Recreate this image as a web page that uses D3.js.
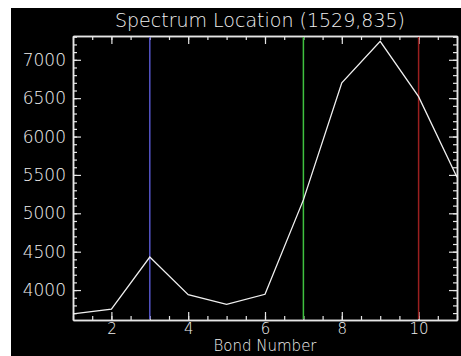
<!DOCTYPE html>
<html>
<head>
<meta charset="utf-8">
<script src="https://cdn.jsdelivr.net/npm/d3@7"></script>
<style>
  body { margin: 0; background: #fff; }
  text { font-family: "DejaVu Sans", sans-serif; font-weight: 200; fill: #f0f0f0; }
</style>
</head>
<body>
<div id="chart"></div>
<script>
// data
var bands = [1, 2, 3, 4, 5, 6, 7, 8, 9, 10, 11];
var values = [3690, 3750, 4430, 3940, 3815, 3945, 5175, 6700, 7240, 6520, 5470];
var markerBands = [3, 7, 10];
var markerColors = ["#5555c8", "#3fc03f", "#9a1f1f"];
var xTicks = [2, 4, 6, 8, 10];
var yTicks = [4000, 4500, 5000, 5500, 6000, 6500, 7000];

var W = 461, H = 356;
var margin = {top: 36, right: 4, bottom: 36, left: 73},
    width = W - margin.left - margin.right,
    height = H - margin.top - margin.bottom;

var svg = d3.select("#chart")
  .append("svg")
    .attr("width", W)
    .attr("height", H);

// black panel with white edge on the left and top
svg.append("rect")
    .attr("x", 11).attr("y", 8)
    .attr("width", W - 11).attr("height", H - 8)
    .attr("fill", "#000");

svg.append("text")
    .attr("x", 260).attr("y", 27)
    .attr("text-anchor", "middle")
    .style("font-size", "19px")
    .text("Spectrum Location (1529,835)");

var g = svg.append("g")
    .attr("transform", "translate(" + margin.left + "," + margin.top + ")");

var x = d3.scaleLinear().domain([1, 11]).range([0, width]);
var y = d3.scaleLinear().domain([3610, 7310]).range([height, 0]);

var minorX = d3.range(1, 11.01, 0.5);
var minorY = d3.range(3700, 7301, 100);

function styleAxis(sel) {
  sel.select(".domain").attr("stroke", "#e6e6e6").attr("stroke-width", 1.5);
  sel.selectAll(".tick line").attr("stroke", "#e6e6e6").attr("stroke-width", 1.2);
  sel.selectAll("text").style("font-size", "17px").attr("fill", "#f0f0f0");
}

// minor ticks
g.append("g").attr("transform", "translate(0," + height + ")")
  .call(d3.axisBottom(x).tickValues(minorX).tickSize(-4).tickFormat("").tickSizeOuter(0)).call(styleAxis);
g.append("g")
  .call(d3.axisTop(x).tickValues(minorX).tickSize(-4).tickFormat("").tickSizeOuter(0)).call(styleAxis);
g.append("g")
  .call(d3.axisLeft(y).tickValues(minorY).tickSize(-4).tickFormat("").tickSizeOuter(0)).call(styleAxis);
g.append("g").attr("transform", "translate(" + width + ",0)")
  .call(d3.axisRight(y).tickValues(minorY).tickSize(-4).tickFormat("").tickSizeOuter(0)).call(styleAxis);

// major ticks
g.append("g").attr("transform", "translate(0," + height + ")")
  .call(d3.axisBottom(x).tickValues(xTicks).tickSize(-8).tickPadding(4).tickFormat(d3.format("d")).tickSizeOuter(0))
  .call(styleAxis)
  .selectAll("text").style("font-size", "15px").attr("dy", "10px");
g.append("g")
  .call(d3.axisTop(x).tickValues(xTicks).tickSize(-8).tickFormat("").tickSizeOuter(0)).call(styleAxis);
g.append("g")
  .call(d3.axisLeft(y).tickValues(yTicks).tickSize(-8).tickPadding(7).tickFormat(d3.format("d")).tickSizeOuter(0))
  .call(styleAxis);
g.append("g").attr("transform", "translate(" + width + ",0)")
  .call(d3.axisRight(y).tickValues(yTicks).tickSize(-8).tickFormat("").tickSizeOuter(0)).call(styleAxis);

// band marker lines
g.selectAll(".marker")
  .data(markerBands)
  .enter().append("line")
    .attr("x1", function(d) { return x(d); })
    .attr("x2", function(d) { return x(d); })
    .attr("y1", 1)
    .attr("y2", height - 1)
    .attr("stroke", function(d, i) { return markerColors[i]; })
    .attr("stroke-width", 1.5);

// spectrum
var line = d3.line()
  .x(function(d, i) { return x(bands[i]); })
  .y(function(d) { return y(d); });

g.append("path")
  .datum(values)
  .attr("fill", "none")
  .attr("stroke", "#f0f0f0")
  .attr("stroke-width", 1.3)
  .attr("d", line);

svg.append("text")
    .attr("x", 265).attr("y", 351)
    .attr("text-anchor", "middle")
    .style("font-size", "15px")
    .text("Bond Number");
</script>
</body>
</html>
